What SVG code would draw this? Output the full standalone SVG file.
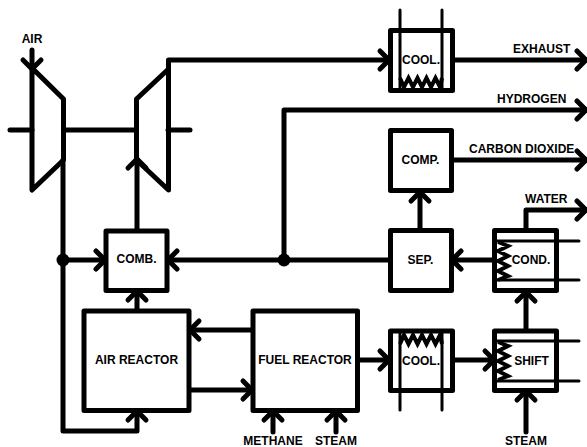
<svg xmlns="http://www.w3.org/2000/svg" width="587" height="447" viewBox="0 0 587 447">
<style>
.b{fill:#fff;stroke:#000;stroke-width:5;stroke-linejoin:round}
.s{fill:none;stroke:#000;stroke-width:5;stroke-linejoin:round;stroke-linecap:round}
.c{fill:none;stroke:#000;stroke-width:5;stroke-linejoin:round;stroke-linecap:round}
.a{marker-end:url(#ah)}
.t{fill:none;stroke:#000;stroke-width:3;stroke-linecap:round}
.z{fill:none;stroke:#000;stroke-width:4;stroke-linejoin:miter}
text{font-family:"Liberation Sans",Arial,sans-serif;font-size:12px;font-weight:bold;fill:#000}
.m{text-anchor:middle}
</style>
<defs>
<marker id="ah" markerUnits="userSpaceOnUse" markerWidth="24" markerHeight="30" refX="14" refY="15" orient="auto" overflow="visible">
<path d="M5,6 L14,15 L5,24" fill="none" stroke="#000" stroke-width="5" stroke-linecap="round" stroke-linejoin="round"/>
</marker>
</defs>
<g id="connectors">
<path class="c a" d="M32 50V69"/>
<path class="c" d="M10 130H32M64 130H136M168 130H190"/>
<path class="c a" d="M168.500 70V60H389"/>
<path class="c a" d="M453 60H586"/>
<path class="c a" d="M284 260V110H586"/>
<path class="c a" d="M452 160H586"/>
<path class="c a" d="M420 230V192"/>
<path class="c a" d="M494 260H452"/>
<path class="c a" d="M526 230V210H586"/>
<path class="c a" d="M526 331V292"/>
<path class="c a" d="M526 432V391"/>
<path class="c a" d="M452 360H494"/>
<path class="c a" d="M358 360H389"/>
<path class="c a" d="M390 260H168"/>
<path class="c a" d="M63 260H105"/>
<path class="c a" d="M137 231V159"/>
<path class="c a" d="M137 311V291"/>
<path class="c a" d="M253 330H190"/>
<path class="c a" d="M190 390H252"/>
<path class="c a" d="M63 160V431H137V411"/>
<path class="c a" d="M273 432V411"/>
<path class="c a" d="M336 432V411"/>
<circle cx="63" cy="260" r="6.500" fill="#000"/>
<circle cx="284" cy="260" r="6.500" fill="#000"/>
</g>
<g id="compressor"><path class="s" d="M32 68L63.500 99V160L32 190Z"/></g>
<g id="turbine"><path class="s" d="M136.500 99L168.500 69V190L136.500 160Z"/></g>
<g id="air-label"><text class="m" x="32" y="43">AIR</text></g>
<g id="cool-top">
<rect class="b" x="390.500" y="30.500" width="62" height="60"/>
<path class="t" d="M400 10V89M442 10V89"/>
<path class="z" d="M400 78L404 87L408.500 78L413 87L417.500 78L422 87L426.500 78L431 87L435.500 78L440 87L442 78"/>
<text class="m" x="421" y="64">COOL.</text>
</g>
<g id="exhaust-label"><text x="513" y="53">EXHAUST</text></g>
<g id="hydrogen-label"><text x="497" y="103">HYDROGEN</text></g>
<g id="co2-label"><text x="469" y="153">CARBON DIOXIDE</text></g>
<g id="comp"><rect class="b" x="390.500" y="130.500" width="61" height="60"/><text class="m" x="420.500" y="164">COMP.</text></g>
<g id="sep"><rect class="b" x="390.500" y="230.500" width="61" height="60"/><text class="m" x="420.500" y="264">SEP.</text></g>
<g id="cond">
<rect class="b" x="494.500" y="230.500" width="62" height="60"/>
<path class="t" d="M497 241H579M497 280H579"/>
<path class="z" d="M498 242L508 246L498 251L508 256L498 261L508 266L498 271L508 276L498 280"/>
<text class="m" x="531" y="264">COND.</text>
</g>
<g id="water-label"><text x="525" y="203">WATER</text></g>
<g id="shift">
<rect class="b" x="494.500" y="331" width="62" height="59.500"/>
<path class="t" d="M497 341H579M497 381H579"/>
<path class="z" d="M498 342L508 346L498 351L508 356L498 361L508 366L498 371L508 376L498 380"/>
<text class="m" x="531.500" y="365">SHIFT</text>
</g>
<g id="cool-bottom">
<rect class="b" x="390.500" y="331" width="62" height="59.500"/>
<path class="t" d="M400 333V410M442 333V410"/>
<path class="z" d="M400 344L404 335L408.500 344L413 335L417.500 344L422 335L426.500 344L431 335L435.500 344L440 335L442 344"/>
<text class="m" x="421" y="365">COOL.</text>
</g>
<g id="comb"><rect class="b" x="106" y="231" width="61" height="59.500"/><text class="m" x="136.500" y="263">COMB.</text></g>
<g id="air-reactor"><rect class="b" x="84" y="311" width="105" height="99.500"/><text class="m" x="136.500" y="364">AIR REACTOR</text></g>
<g id="fuel-reactor"><rect class="b" x="253" y="311" width="104.500" height="99.500"/><text class="m" x="305" y="364">FUEL REACTOR</text></g>
<g id="input-labels">
<text class="m" x="273" y="445">METHANE</text>
<text class="m" x="336" y="445">STEAM</text>
<text class="m" x="526" y="445">STEAM</text>
</g>
</svg>
